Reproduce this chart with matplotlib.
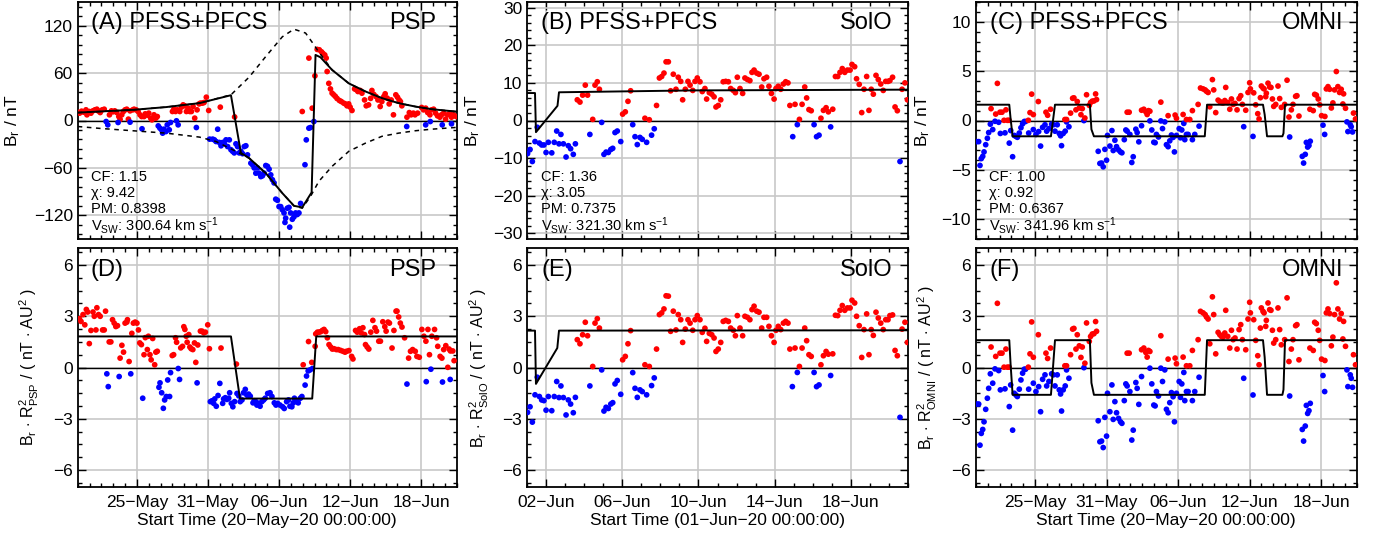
import numpy as np
import matplotlib
matplotlib.use('Agg')
import matplotlib.pyplot as plt
from matplotlib.ticker import FixedLocator, MultipleLocator

plt.rcParams['font.family'] = ['Liberation Sans', 'DejaVu Sans']
plt.rcParams['mathtext.fontset'] = 'custom'
plt.rcParams['mathtext.rm'] = 'Liberation Sans'
plt.rcParams['mathtext.it'] = 'Liberation Sans:italic'
plt.rcParams['mathtext.bf'] = 'Liberation Sans:bold'

# ---- data: (day since start, value) ----
# PSP Br [nT], days since 20-May-20
psp_br = [
    (0, 10.5), (0.16, 9.3), (0.33, 11.8), (0.5, 10.5), (0.7, 13.5), (0.78, 7.2), (0.98, 11.4), (1.12, 9.3),
    (1.28, 12.2), (1.45, 13.5), (1.62, 14.3), (1.73, 12.2), (1.9, 10.1), (2.07, 13.5), (2.24, 14.3), (2.68, 7.2),
    (2.85, 12.2), (2.97, 11), (3.13, 12.2), (3.3, 10.1), (3.47, 5), (3.58, 1.5), (3.72, 7.2), (3.86, 11.4),
    (4.0, 13.5), (4.14, 14.3), (4.28, 1.7), (4.42, 12.2), (4.65, 13.5), (4.76, 14.3), (4.93, 13.5), (5.1, 11.4),
    (5.26, 7.2), (5.4, 5), (5.6, 5), (5.7, 8.4), (5.88, 6.8), (6.0, 9.3), (6.16, 3), (6.27, 0.8), (6.44, 7.2),
    (6.6, 3), (6.72, 5), (8.0, 11.4), (8.12, 14.3), (8.26, 11.4), (8.4, 13.5), (8.62, 11.4), (8.76, 16.9),
    (8.9, 19.8), (9.04, 18.6), (9.18, 11.4), (9.32, 15.6), (9.46, 11.4), (9.6, 11.4), (9.74, 17.7), (9.88, 3),
    (10.08, 13.5), (10.25, 21), (10.36, 22), (10.53, 22), (10.67, 22.8), (10.86, 29.5), (11.06, 12.7),
    (12.04, 16.9), (13.25, 4.5),
    (2.4, -1.3), (2.54, -5.5), (3.41, -2.5), (4.42, -2.1), (5.43, -10.5), (6.8, -6.8), (6.94, -9.7),
    (7.08, -11.8), (7.17, -16), (7.28, -11), (7.45, -14), (7.56, -5.5), (7.73, -11.8), (7.84, -2.5),
    (8.34, -0.4), (8.48, -5.5), (10.02, -8.9),
    (11.14, -23.6), (11.4, -23.6), (11.54, -24.5), (11.68, -26.6), (11.82, -11), (11.96, -27.8), (12.1, -32),
    (12.24, -27.8), (12.38, -29.5), (12.52, -24.5), (12.66, -33), (12.8, -24.5), (12.94, -37), (13.08, -39),
    (13.22, -41), (13.36, -29.5), (13.5, -33), (13.64, -41), (13.78, -39), (13.92, -42), (14.06, -33),
    (14.2, -32), (14.34, -43.5), (14.62, -54), (14.76, -56), (14.9, -60), (15.04, -66.7), (15.18, -60),
    (15.32, -66.7), (15.46, -71), (15.6, -70), (15.74, -66.7), (15.88, -57), (16.02, -58), (16.16, -61.6),
    (16.3, -68.8), (16.44, -75), (16.58, -79), (16.72, -99.6), (16.86, -101), (17.0, -109), (17.14, -109),
    (17.28, -113), (17.42, -117), (17.5, -129), (17.56, -123.6), (17.7, -111), (17.84, -110), (17.9, -135),
    (17.98, -117), (18.12, -125), (18.26, -122), (18.4, -117), (18.54, -119), (18.68, -117), (18.82, -105),
    (19.19, -56), (19.3, -24.5), (19.52, -9.7), (19.66, -8.9), (19.94, -1.3),
    (18.96, 11.4), (19.52, 79), (19.8, 15.6), (20.03, 56.5), (20.22, 90),
    (20.4, 89.5), (20.58, 87), (20.7, 85), (20.86, 83), (20.98, 79), (21.06, 62), (21.2, 47), (21.34, 40),
    (21.48, 34.6), (21.62, 32.5), (21.76, 30.4), (21.9, 27.8), (22.1, 25.3), (22.26, 24), (22.46, 22),
    (22.6, 21), (22.74, 18.6), (22.88, 21), (23.0, 17), (23.16, 12.7), (23.38, 40), (23.52, 39), (23.66, 36.7),
    (23.86, 38), (24.0, 34.6), (24.22, 26), (24.36, 18.6), (24.56, 19.8), (24.73, 28), (24.84, 38), (25.0, 33),
    (25.18, 30.4), (25.35, 26), (25.54, 17.7), (25.68, 24), (25.85, 30.4), (25.96, 33.8), (26.13, 28.3),
    (26.3, 21), (26.47, 26), (26.66, 7.2), (26.86, 32.5), (27.0, 29.5), (27.14, 26), (27.25, 24), (27.37, 18.6),
    (27.8, 4.2), (28.0, 10), (28.15, 7.2), (28.34, 9.3), (28.48, 7.2), (28.7, 9.3), (29.04, 16.5), (29.2, 13.5),
    (29.38, 15.6), (29.55, 10.1), (29.74, 7.2), (29.88, 13.5), (30.05, 14.3), (30.22, 9.3), (30.38, 5.9),
    (30.58, 4.2), (30.72, 7.2), (30.9, 9.3), (31.06, 1.7), (31.23, 7.2), (31.42, 9.3), (31.56, 4.2),
    (31.73, 7.2), (31.95, 5),
    (27.78, -7.6), (29.38, -5.5), (29.77, -1.3), (30.78, -5.5), (31.56, -4.2),
]

# PSP Br * R^2 [nT AU^2]
psp_norm = [
    (0.14, 2.86), (0.28, 2.7), (0.45, 3.1), (0.6, 2.5), (0.73, 3.4), (0.84, 3.25), (0.98, 1.4), (1.12, 2.17),
    (1.29, 3.25), (1.4, 3.0), (1.54, 2.2), (1.62, 3.5), (1.76, 3.1), (1.9, 3.0), (2.1, 2.2), (2.24, 2.2),
    (2.35, 3.3), (2.66, 1.5), (2.8, 1.5), (2.94, 2.8), (3.08, 2.6), (3.22, 2.4), (3.36, 2.45), (3.58, 0.55),
    (3.73, 1.3), (3.87, 0.9), (4.0, 2.6), (4.15, 2.66), (4.2, 2.8), (4.34, 0.35), (4.57, 2.0), (4.7, 2.6),
    (4.85, 2.66), (5.0, 2.6), (5.13, 2.2), (5.24, 1.44), (5.38, 1.34), (5.6, 0.75), (5.71, 1.75), (5.88, 1.05),
    (5.97, 1.83), (6.1, 0.75), (6.2, 0.45), (6.33, 1.7), (6.5, 0.16), (6.6, 0.9), (6.72, 0.95), (7.98, 0.7),
    (8.1, 0.75), (8.26, 1.74), (8.35, 1.48), (8.7, 1.15), (8.85, 1.24), (8.96, 2.39), (9.05, 2.23), (9.16, 1.83),
    (9.24, 1.48), (9.38, 1.93), (9.47, 1.2), (9.58, 1.1), (9.72, 1.05), (9.86, 1.44), (9.97, 0.3), (10.14, 1.32),
    (10.36, 2.13), (10.5, 2.13), (10.64, 2.03), (10.78, 2.07), (10.98, 2.5), (11.12, 1.1), (12.1, 1.14),
    (13.4, 0.2),
    (2.46, -0.37), (2.58, -1.12), (3.5, -0.53), (4.48, -0.37), (5.49, -1.8), (6.86, -1.16), (6.95, -0.9),
    (7.09, -1.48), (7.23, -2.39), (7.34, -1.9), (7.48, -1.7), (7.6, -0.73), (7.76, -1.7), (7.84, -0.3),
    (8.49, -0.06), (8.6, -0.7), (10.08, -0.9), (11.2, -2.0), (11.34, -1.95), (11.48, -2.1), (11.57, -1.84),
    (11.7, -2.27), (11.85, -1.64), (12.0, -0.93), (12.24, -2.1), (12.32, -1.84), (12.46, -1.77), (12.6, -1.87),
    (12.75, -1.8), (12.83, -1.48), (12.97, -2.1), (13.1, -2.3), (13.25, -2.0), (13.45, -1.52), (13.6, -1.66),
    (13.72, -2.0), (13.87, -1.9), (14.0, -1.48), (14.15, -1.28), (14.29, -1.62), (14.43, -1.56), (14.57, -1.68),
    (14.8, -2.07), (14.9, -1.95), (15.04, -2.0), (15.13, -2.2), (15.27, -2.1), (15.4, -2.27), (15.55, -2.0),
    (15.7, -1.9), (15.83, -1.8), (16.04, -1.52), (16.24, -1.48), (16.4, -1.7), (16.6, -2.07), (16.74, -2.2),
    (16.88, -2.1), (17.08, -2.2), (17.3, -2.3), (17.44, -2.4), (17.64, -2.0), (17.8, -1.9), (17.92, -2.27),
    (18.08, -2.3), (18.2, -2.07), (18.3, -1.8), (18.48, -2.0), (18.62, -2.07), (18.8, -1.8), (18.93, -1.7),
    (19.2, -1.03), (19.32, -0.5), (19.46, -0.2), (19.62, -0.14), (19.82, -0.06),
    (27.8, -0.97), (29.43, -0.83), (29.82, -0.1), (30.8, -0.85), (31.45, -0.7),
    (19.04, 0.16), (19.49, 1.52), (19.76, 0.3), (20.05, 1.24), (20.1, 1.97), (20.24, 2.07), (20.38, 2.07),
    (20.52, 2.1), (20.66, 2.17), (20.8, 2.23), (20.94, 2.1), (21.08, 1.74), (21.22, 1.34), (21.36, 1.2),
    (21.5, 1.08), (21.64, 1.1), (21.84, 1.05), (22.0, 1.05), (22.2, 1.0), (22.4, 0.95), (22.57, 0.9),
    (22.7, 0.95), (22.9, 0.99), (23.13, 0.65), (23.24, 0.5), (23.46, 2.17), (23.6, 2.07), (23.8, 2.27),
    (23.94, 2.03), (24.08, 2.33), (24.22, 1.93), (24.3, 1.34), (24.44, 1.2), (24.58, 1.08), (24.75, 2.07),
    (24.92, 2.76), (25.1, 2.33), (25.23, 2.13), (25.42, 1.54), (25.56, 1.54), (25.76, 2.68), (25.93, 2.39),
    (26.04, 2.13), (26.2, 2.66), (26.32, 2.6), (26.54, 1.14), (26.7, 2.17), (26.88, 3.3), (26.96, 3.3),
    (27.1, 2.96), (27.24, 2.6), (27.38, 2.37), (27.6, 1.74), (27.94, 0.55), (28.1, 0.95), (28.28, 1.05),
    (28.5, 0.95), (28.64, 0.65), (28.84, 0.6), (29.06, 2.23), (29.23, 1.83), (29.4, 1.54), (29.57, 2.23),
    (29.7, 0.75), (29.9, 1.83), (30.13, 2.23), (30.3, 1.74), (30.4, 1.24), (30.6, 0.65), (30.75, 0.55),
    (30.9, 1.05), (31.08, 1.28), (31.25, 0.01), (31.36, 1.08), (31.47, 0.97), (31.67, 0.97), (31.78, 0.4),
]

# SolO Br [nT], days since 01-Jun-20
solo_br = [
    (0.03, -8.8), (0.16, -7.7), (0.28, -10.9), (0.42, -5.6), (0.54, -1.8), (0.65, -6.0), (0.77, -6.5),
    (0.89, -6.5), (1.0, -8.5), (1.12, -5.8), (1.3, -8.6), (1.43, -5.8), (1.56, -2.8), (1.68, -6.2),
    (1.78, -3.7), (1.91, -6.2), (2.05, -9.7), (2.17, -6.7), (2.29, -7.5), (2.43, -9), (2.54, -6.2),
    (3.3, -3.7), (3.92, -0.5), (4.04, -9), (4.15, -8.4), (4.27, -8.5), (4.4, -7.7), (4.5, -7.4), (4.62, -3.2),
    (4.74, -2.8), (4.92, -5.6), (5.55, -1.1), (5.67, -4.3), (5.79, -6.4), (5.93, -4.5), (6.05, -5.0),
    (6.28, -5.8), (6.54, -3.9), (6.68, -2.2), (13.95, -4.3), (14.19, -1.1), (15.07, -1.1), (15.2, -4.3),
    (15.33, -3.9), (15.94, -1.7), (19.58, -10.9),
    (2.64, 5.5), (2.78, 4.9), (2.92, 6.75), (3.06, 9.4), (3.18, 6.75), (3.45, 0.3), (3.57, 9.4), (3.69, 10.3),
    (3.8, 8.3), (5.02, 1.7), (5.16, 2.3), (5.3, 5.1), (5.44, 7.9), (6.19, 0.6), (6.42, 0.2), (6.8, 4.0),
    (6.95, 11.3), (7.07, 11.7), (7.19, 12.6), (7.3, 15.6), (7.42, 15.6), (7.54, 7.9), (7.68, 12.3), (7.82, 8.3),
    (7.94, 11.5), (8.07, 10.4), (8.17, 5.5), (8.31, 8.3), (8.45, 10.4), (8.56, 9.4), (8.7, 8.0), (8.82, 10.4),
    (8.94, 11.3), (9.08, 10.3), (9.2, 7.7), (9.34, 8.5), (9.43, 5.7), (9.57, 7.4), (9.7, 7.0), (9.82, 6.3),
    (9.92, 3.6), (10.04, 4.0), (10.17, 5.5), (10.3, 10.3), (10.43, 10.4), (10.57, 10.3), (10.69, 8.5),
    (10.83, 8.0), (10.94, 7.4), (11.04, 11.5), (11.18, 8.5), (11.32, 7.2), (11.44, 11.3), (11.57, 10.9),
    (11.7, 10.6), (11.81, 12.8), (11.92, 13.4), (12.06, 12.6), (12.18, 12.3), (12.32, 8.9), (12.44, 11.1),
    (12.58, 11.5), (12.7, 9.1), (12.83, 7.2), (12.97, 5.7), (13.07, 8.5), (13.19, 9.1), (13.32, 8.3),
    (13.46, 9.7), (13.58, 10.3), (13.7, 10.0), (13.8, 4.0), (14.07, 4.3), (14.3, 0.3), (14.44, 4.3),
    (14.58, 8.9), (14.68, 6.0), (14.8, 2.9), (14.92, 2.6), (15.43, 0.6), (15.56, 2.7), (15.7, 3.4),
    (15.82, 2.3), (16.05, 3.0), (16.19, 11.7), (16.31, 11.7), (16.43, 12.8), (16.55, 13.8), (16.68, 12.8),
    (16.82, 13.4), (16.96, 13.4), (17.06, 14.9), (17.2, 14.3), (17.3, 11.1), (17.44, 9.6), (17.57, 2.1),
    (17.69, 8.3), (17.83, 11.7), (17.95, 2.7), (18.07, 8.3), (18.18, 7.0), (18.32, 12.0), (18.44, 10.9),
    (18.57, 9.7), (18.7, 8.0), (18.83, 10.4), (18.95, 10.4), (19.05, 10.6), (19.19, 11.5), (19.32, 3.6),
    (19.44, 2.6), (19.69, 8.3), (19.84, 10.0), (19.97, 5.5),
]

# SolO Br * R^2 [nT AU^2]
solo_norm = [
    (0.03, -2.63), (0.16, -2.3), (0.28, -3.2), (0.42, -1.6), (0.54, -0.57), (0.65, -1.7), (0.77, -1.9),
    (0.89, -1.94), (1.0, -2.5), (1.12, -1.7), (1.3, -2.53), (1.43, -1.7), (1.56, -0.82), (1.68, -1.76),
    (1.78, -1.08), (1.91, -1.76), (2.05, -2.78), (2.17, -1.9), (2.29, -2.14), (2.43, -2.65), (2.54, -1.75),
    (3.3, -1.08), (3.92, -0.14), (4.04, -2.55), (4.15, -2.33), (4.27, -2.4), (4.4, -2.14), (4.5, -2.06),
    (4.62, -0.96), (4.74, -0.76), (4.92, -1.57), (5.55, -0.3), (5.67, -1.22), (5.79, -1.75), (5.93, -1.31),
    (6.05, -1.41), (6.28, -1.6), (6.54, -1.06), (6.68, -0.61), (13.93, -1.12), (14.19, -0.29), (15.07, -0.29),
    (15.2, -1.12), (15.33, -1.02), (15.94, -0.47), (19.58, -2.92),
    (2.64, 1.63), (2.78, 1.39), (2.92, 1.92), (3.06, 2.65), (3.18, 1.86), (3.45, 0.06), (3.57, 2.6),
    (3.69, 2.86), (3.8, 2.31), (5.02, 0.45), (5.16, 0.65), (5.3, 1.39), (5.44, 2.16), (6.19, 0.16),
    (6.42, 0.06), (6.8, 1.08), (6.95, 3.1), (7.07, 3.2), (7.19, 3.43), (7.3, 4.2), (7.42, 4.18), (7.54, 2.12),
    (7.68, 3.3), (7.82, 2.2), (7.94, 3.1), (8.07, 2.8), (8.17, 1.47), (8.31, 2.25), (8.45, 2.8), (8.56, 2.6),
    (8.7, 2.18), (8.82, 2.8), (8.94, 3.04), (9.08, 2.8), (9.2, 2.06), (9.34, 2.3), (9.43, 1.53), (9.57, 2.0),
    (9.7, 1.92), (9.82, 1.73), (9.92, 0.94), (10.04, 1.08), (10.17, 1.47), (10.3, 2.7), (10.43, 2.76),
    (10.57, 2.7), (10.69, 2.31), (10.83, 2.18), (10.94, 1.86), (11.04, 3.04), (11.18, 2.31), (11.32, 1.86),
    (11.44, 3.0), (11.57, 2.94), (11.7, 2.8), (11.81, 3.39), (11.92, 3.59), (12.06, 3.3), (12.18, 3.24),
    (12.32, 2.31), (12.44, 2.94), (12.58, 2.94), (12.7, 2.41), (12.83, 1.86), (12.97, 1.47), (13.07, 2.18),
    (13.19, 2.41), (13.32, 2.22), (13.46, 2.6), (13.58, 2.7), (13.7, 2.6), (13.8, 1.08), (14.07, 1.14),
    (14.3, 0.06), (14.44, 1.14), (14.58, 2.31), (14.68, 1.57), (14.8, 0.75), (14.92, 0.65), (15.43, 0.16),
    (15.56, 0.69), (15.7, 0.94), (15.82, 0.78), (16.05, 0.8), (16.19, 3.06), (16.31, 3.04), (16.43, 3.35),
    (16.55, 3.63), (16.68, 3.35), (16.82, 3.49), (16.96, 3.49), (17.06, 3.94), (17.2, 3.78), (17.3, 3.0),
    (17.44, 2.45), (17.57, 0.59), (17.69, 2.22), (17.83, 3.14), (17.95, 0.75), (18.07, 2.22), (18.18, 1.88),
    (18.32, 3.24), (18.44, 2.9), (18.57, 2.6), (18.7, 2.22), (18.83, 2.8), (18.95, 2.8), (19.05, 3.04),
    (19.19, 3.08), (19.32, 1.0), (19.44, 0.69), (19.69, 2.25), (19.84, 2.65), (19.97, 1.47),
]

# OMNI Br [nT] (~1 AU, so Br * R^2 is practically the same numbers), days since 20-May-20
omni_br = [
    (0.08, -2.14), (0.25, -2.14), (0.36, -4.55), (0.47, -3.86), (0.59, -3.63), (0.7, -3.18), (0.84, -2.45),
    (0.98, -1.8), (1.09, -1.22), (1.23, -0.37), (1.43, -0.92), (1.62, -0.08), (1.93, -0.18), (2.07, -1.31),
    (2.46, -1.25), (2.82, -2.29), (2.94, -1.02), (3.1, -3.67), (3.24, -1.51), (3.38, -1.61), (3.5, -1.7),
    (3.66, -1.27), (3.8, -0.73), (3.94, -0.33), (4.08, -0.1), (4.19, -0.1), (4.45, -1.27), (4.84, -0.92),
    (5.06, -1.41), (5.29, -1.12), (5.45, -2.59), (5.62, -0.69), (5.82, -0.43), (5.96, -1.08), (6.15, -0.82),
    (6.38, -0.37), (6.52, -0.43), (6.66, -1.08), (6.85, -0.43), (7.02, -1.31), (7.13, -1.55), (7.21, -2.55),
    (7.35, -1.31), (7.52, -1.08), (7.63, -0.14), (7.83, -0.63), (9.09, -0.01), (10.29, -3.12), (10.43, -4.35),
    (10.57, -4.31), (10.71, -4.69), (10.85, -2.92), (10.99, -4.02), (11.07, -1.51), (11.27, -2.59),
    (11.44, -1.02), (11.55, -3.04), (11.69, -2.0), (11.83, -2.65), (12.0, -2.98), (12.16, -3.18),
    (12.28, -3.27), (12.48, -1.94), (12.61, -0.96), (12.72, -1.08), (12.95, -1.41), (13.11, -4.25),
    (13.23, -3.67), (13.45, -0.88), (13.56, -1.22), (13.7, -2.16), (13.93, -0.53), (14.63, -0.04),
    (14.79, -0.96), (14.96, -2.2), (15.07, -2.25), (15.18, -1.41), (15.35, -1.67), (15.55, -0.04),
    (15.69, -0.82), (15.88, -0.14), (16.02, -2.45), (16.16, -2.65), (16.3, -2.06), (16.44, -1.47),
    (16.58, -1.71), (16.69, -3.18), (16.86, -1.51), (17.09, -0.82), (17.2, -1.75), (17.31, -0.96),
    (17.48, -0.29), (17.56, -1.94), (17.7, -1.41), (17.84, -1.41), (18.2, -1.94), (18.4, -1.41),
    (18.76, -0.57), (22.51, -0.63), (23.29, -1.61), (26.37, -1.67), (27.43, -3.63), (27.54, -4.31),
    (27.68, -3.43), (27.77, -2.22), (27.88, -2.69), (27.99, -2.53), (28.1, -2.1), (29.17, -0.47),
    (29.31, -1.41), (31.18, -0.14), (31.26, -1.12), (31.46, -0.43), (31.54, -0.63), (31.65, -1.16),
    (1.29, 1.2), (1.68, 0.65), (1.82, 3.76), (2.04, 0.84), (2.21, 0.84), (2.38, 0.02), (2.54, 1.08),
    (2.66, 0.02), (2.8, 0.02), (4.42, 0.02), (4.56, 0.8), (4.7, 2.67), (4.84, 0.6), (5.26, 1.92), (5.9, 0.84),
    (6.04, 0.53), (6.29, 1.14), (7.49, 0.1), (7.63, 0.1), (7.97, 0.75), (8.14, 2.25), (8.25, 2.29),
    (8.42, 1.08), (8.53, 1.92), (8.7, 1.27), (8.84, 0.59), (8.95, 1.2), (9.17, 0.25), (9.31, 2.61),
    (9.54, 1.53), (9.65, 1.82), (9.79, 1.96), (9.93, 1.98), (10.07, 2.69), (10.15, 2.12), (12.72, 0.84),
    (12.89, 0.84), (13.93, 1.04), (14.12, 1.14), (14.29, 0.88), (14.4, 0.61), (14.51, 1.0), (14.63, 0.94),
    (15.55, 1.86), (16.16, 0.49), (16.75, 0.55), (16.86, 0.22), (17.42, 0.61), (17.7, 0.1), (17.98, 0.1),
    (18.2, 1.0), (18.68, 1.63), (18.88, 3.29), (19.1, 3.2), (19.27, 3.1), (19.38, 2.96), (19.52, 2.84),
    (19.66, 1.39), (19.88, 4.14), (19.99, 3.1), (20.16, 0.8), (20.36, 2.06), (20.5, 1.92), (20.64, 1.82),
    (20.78, 1.78), (20.92, 2.02), (21.0, 3.35), (21.17, 1.82), (21.34, 1.14), (21.48, 2.18), (21.62, 1.63),
    (21.78, 1.73), (21.95, 1.08), (22.12, 2.22), (22.26, 2.51), (22.4, 1.63), (22.68, 1.04), (22.87, 2.84),
    (23.01, 3.82), (23.07, 3.2), (23.35, 2.8), (23.52, 1.59), (23.69, 0.69), (23.8, 0.16), (23.91, 2.31),
    (23.99, 3.49), (24.13, 3.29), (24.22, 3.2), (24.36, 2.41), (24.41, 2.76), (24.55, 3.78), (24.69, 3.39),
    (24.8, 3.35), (24.92, 2.18), (25.03, 1.43), (25.2, 1.63), (25.39, 3.49), (25.53, 2.22), (25.67, 1.33),
    (25.95, 1.63), (26.15, 4.08), (26.31, 0.35), (26.51, 1.08), (26.65, 1.63), (26.87, 2.45), (26.98, 2.51),
    (27.15, 0.45), (28.07, 1.14), (28.35, 1.0), (28.47, 2.65), (28.61, 2.57), (28.77, 2.18), (28.89, 1.59),
    (29.05, 0.49), (29.33, 0.41), (29.45, 3.2), (29.59, 3.43), (29.73, 3.16), (29.87, 1.27), (30.0, 1.78),
    (30.14, 3.1), (30.29, 4.96), (30.42, 3.43), (30.56, 2.84), (30.7, 3.16), (30.84, 1.67), (30.9, 2.7),
    (31.06, 1.24), (31.73, 0.75), (31.9, 0.16),
]

# model curves
psp_env_up_t = [0, 1.88, 4.68, 7.48, 10.28, 12.94, 14.48, 15.88, 17.28, 18.26, 19.24, 19.94, 20.22,
                21.48, 22.89, 24.29, 25.69, 27.09, 28.49, 29.89, 31.85, 32]
psp_env_up = [10, 11.4, 13.5, 17, 22, 32.5, 55, 81, 106, 115.6, 110.7, 96, 89.6,
              64, 47, 36.8, 28.3, 22, 17.7, 14.3, 11.4, 11.2]
psp_env_lo_t = [0, 1.88, 4.68, 7.48, 10.28, 11.68, 13.08, 14.48, 15.88, 17.28, 18.26, 18.96, 19.66,
                20.36, 21.48, 22.89, 24.29, 25.69, 27.09, 28.49, 29.89, 31.85, 32]
psp_env_lo = [-7.6, -10, -13, -16, -21, -26.6, -37, -47.7, -66.7, -92, -108, -111, -96,
              -77, -58, -39, -28.7, -20, -16, -13, -11, -8.9, -8.8]
psp_model_t = [0, 1.88, 4.68, 7.48, 10.28, 12.94, 13.78, 14.48, 15.88, 17.28, 18.26, 18.96, 19.75,
               20.08, 20.5, 21.48, 22.89, 24.29, 25.69, 27.09, 28.49, 29.89, 31.85, 32]
psp_model = [10, 11.4, 13.5, 17, 22, 32, -41, -47.7, -66.7, -92, -108, -110, -91,
             83, 80, 64, 47, 36.8, 28.3, 22, 17.7, 14.3, 11.4, 11]
psp_model_norm_t = [0, 12.94, 13.7, 19.8, 20.14, 32]
psp_model_norm = [1.82, 1.82, -1.82, -1.82, 1.82, 1.82]

solo_model_t = [0, 0.42, 0.47, 1.6, 1.68, 8.7, 20]
solo_model = [7.3, 7.3, -3.1, 3.9, 7.5, 8.0, 8.2]
solo_model_norm_t = [0, 0.42, 0.47, 1.59, 1.68, 20]
solo_model_norm = [2.16, 2.16, -0.96, 1.14, 2.16, 2.18]

omni_model_t = [0, 2.82, 2.93, 3.1, 6.32, 6.45, 6.66, 9.59, 9.72, 9.93, 19.24, 19.43,
                24.13, 24.27, 24.47, 25.76, 25.85, 25.98, 32]
omni_model = [1.6, 1.6, 0.2, -1.6, -1.6, -0.4, 1.6, 1.6, -0.9, -1.6, -1.6, 1.6,
              1.6, 0.6, -1.6, -1.6, -1.3, 1.6, 1.6]

# fit statistics
stats = {
    'A': ['CF: 1.15', '\u03c7: 9.42', 'PM: 0.8398', r'V$_\mathrm{SW}$: 300.64 km s$^{-1}$'],
    'B': ['CF: 1.36', '\u03c7: 3.05', 'PM: 0.7375', r'V$_\mathrm{SW}$: 321.30 km s$^{-1}$'],
    'C': ['CF: 1.00', '\u03c7: 0.92', 'PM: 0.6367', r'V$_\mathrm{SW}$: 341.96 km s$^{-1}$'],
}

may_ticks = [5, 11, 17, 23, 29]
may_labels = ['25\u2212May', '31\u2212May', '06\u2212Jun', '12\u2212Jun', '18\u2212Jun']
jun_ticks = [1, 5, 9, 13, 17]
jun_labels = ['02\u2212Jun', '06\u2212Jun', '10\u2212Jun', '14\u2212Jun', '18\u2212Jun']
may_xlabel = 'Start Time (20\u2212May\u221220 00:00:00)'
jun_xlabel = 'Start Time (01\u2212Jun\u221220 00:00:00)'

fig = plt.figure(figsize=(13.82, 5.35), dpi=100)
W, H = 1382.0, 535.0
lefts = [77.7, 527.0, 975.7]
widths = [379.0, 381.0, 381.0]
rows = [(2.0, 239.0), (248.0, 487.0)]
axs = [[None] * 3 for _ in range(2)]
for r, (top, bot) in enumerate(rows):
    for c in range(3):
        axs[r][c] = fig.add_axes([lefts[c] / W, 1 - bot / H, widths[c] / W, (bot - top) / H])


def setup(ax, ylim, ymaj, ymin, xmax, ticks, labels, xlabel):
    ax.set_xlim(0, xmax)
    ax.set_ylim(-ylim, ylim)
    ax.xaxis.set_major_locator(FixedLocator(ticks))
    ax.xaxis.set_minor_locator(MultipleLocator(1))
    ax.yaxis.set_major_locator(MultipleLocator(ymaj))
    ax.yaxis.set_minor_locator(MultipleLocator(ymin))
    ax.grid(True, which='major', color='#c8c8c8', lw=1.2)
    ax.set_axisbelow(True)
    ax.axhline(0, color='k', lw=1.0, zorder=2)
    ax.tick_params(which='both', direction='in', top=True, right=True, labelsize=12.5, width=1.0)
    ax.tick_params(which='major', length=6)
    ax.tick_params(which='minor', length=3)
    ax.tick_params(axis='x', pad=6)
    for s in ax.spines.values():
        s.set_linewidth(1.3)
    if xlabel:
        ax.set_xticklabels(labels)
        ax.set_xlabel(xlabel, fontsize=12.5, labelpad=2)
    else:
        ax.set_xticklabels([])


def dots(ax, pts):
    p = np.array(pts)
    col = np.where(p[:, 1] >= 0, '#ff0000', '#0000ff')
    ax.scatter(p[:, 0], p[:, 1], s=17, c=col, linewidths=0, zorder=3)


def texts(ax, letter, craft, xl, xr, ytitle):
    ax.text(xl, ytitle, letter, transform=ax.transAxes, fontsize=17, va='center', ha='left')
    ax.text(xr, ytitle, craft, transform=ax.transAxes, fontsize=17, va='center', ha='right')


# top row
ax = axs[0][0]
setup(ax, 150, 60, 12, 32, may_ticks, may_labels, None)
dots(ax, psp_br)
ax.plot(psp_env_up_t, psp_env_up, color='k', lw=1.1, ls=(0, (3, 3)), zorder=4)
ax.plot(psp_env_lo_t, psp_env_lo, color='k', lw=1.1, ls=(0, (3, 3)), zorder=4)
ax.plot(psp_model_t, psp_model, color='k', lw=1.4, zorder=5)
texts(ax, '(A) PFSS+PFCS', 'PSP', 0.034, 0.945, 0.912)

ax = axs[0][1]
setup(ax, 31.5, 10, 2, 20, jun_ticks, jun_labels, None)
dots(ax, solo_br)
ax.plot(solo_model_t, solo_model, color='k', lw=1.4, zorder=5)
texts(ax, '(B) PFSS+PFCS', 'SolO', 0.037, 0.959, 0.912)

ax = axs[0][2]
setup(ax, 12, 5, 1, 32, may_ticks, may_labels, None)
dots(ax, omni_br)
ax.plot(omni_model_t, omni_model, color='k', lw=1.4, zorder=5)
texts(ax, '(C) PFSS+PFCS', 'OMNI', 0.037, 0.965, 0.912)

for c, key in enumerate(['A', 'B', 'C']):
    ax = axs[0][c]
    xl = [0.034, 0.037, 0.036][c]
    for line, yy in zip(stats[key], [0.262, 0.195, 0.128, 0.058]):
        ax.text(xl, yy, line, transform=ax.transAxes, fontsize=10.5, va='center', ha='left')
    ax.set_ylabel(r'B$_\mathrm{r}$ / nT', fontsize=12.5)
    ax.yaxis.set_label_coords([-0.147, -0.118, -0.115][c], 0.5)

# bottom row
ax = axs[1][0]
setup(ax, 7, 3, 0.75, 32, may_ticks, may_labels, may_xlabel)
dots(ax, psp_norm)
ax.plot(psp_model_norm_t, psp_model_norm, color='k', lw=1.4, zorder=5)
texts(ax, '(D)', 'PSP', 0.034, 0.945, 0.908)

ax = axs[1][1]
setup(ax, 7, 3, 0.75, 20, jun_ticks, jun_labels, jun_xlabel)
dots(ax, solo_norm)
ax.plot(solo_model_norm_t, solo_model_norm, color='k', lw=1.4, zorder=5)
texts(ax, '(E)', 'SolO', 0.037, 0.959, 0.908)

ax = axs[1][2]
setup(ax, 7, 3, 0.75, 32, may_ticks, may_labels, may_xlabel)
dots(ax, omni_br)
ax.plot(omni_model_t, omni_model, color='k', lw=1.4, zorder=5)
texts(ax, '(F)', 'OMNI', 0.037, 0.965, 0.908)

for c, name in enumerate(['PSP', 'SolO', 'OMNI']):
    ax = axs[1][c]
    ax.set_ylabel(r'B$_\mathrm{r}$ $\cdot$ R$^2_\mathrm{%s}$ / ( nT $\cdot$ AU$^2$ )' % name, fontsize=11.5)
    ax.yaxis.set_label_coords([-0.097, -0.094, -0.096][c], 0.5)

fig.savefig('out.png', dpi=100)
